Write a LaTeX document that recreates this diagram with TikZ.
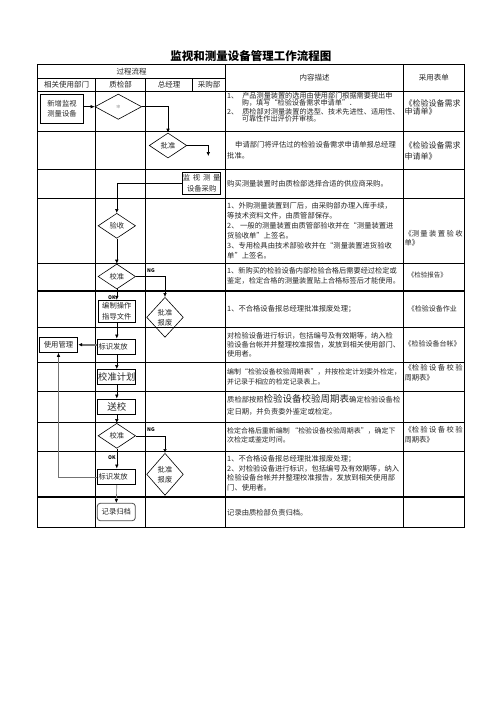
\documentclass[tikz,border=0pt]{standalone}
\usepackage{fontspec}
\setmainfont{Noto Sans CJK SC}
\usetikzlibrary{arrows.meta,shapes.geometric,positioning}
\newcommand{\cellfont}{\fontsize{7.3}{10}\selectfont}
\newcommand{\lsp}{\hspace{1.4pt}}
\tikzset{
  basic/.style   = {draw, inner sep=0pt, align=center, text=black!85,
  font=\fontsize{7.3}{8.5}\selectfont},
  stepbox/.style = {basic, rectangle, line width=0.9pt, minimum width=38pt,
  minimum height=15pt},
  leftbox/.style = {stepbox, align=left, inner xsep=0.6pt, text width=36.6pt},
  bigbox/.style  = {stepbox, font=\fontsize{9.3}{10}\selectfont},
  archive/.style = {stepbox, rounded corners=3pt, line width=0.8pt, draw=black!70},
  decide/.style  = {basic, diamond, line width=0.6pt, minimum width=37.5pt,
  minimum height=25pt},
  desc/.style    = {anchor=north west, align=left, inner sep=0pt, text=black!85,
  font=\cellfont},
  head/.style    = {inner sep=0pt, text=black!85, font=\fontsize{7.5}{9}\selectfont},
  title/.style   = {inner sep=0pt, font=\fontsize{11.5}{12}\selectfont\bfseries},
  tag/.style     = {inner sep=0pt, font=\fontsize{5}{5}\selectfont\bfseries},
  flow/.style    = {-{Latex[length=4pt,width=3.6pt]}, line width=0.6pt},
  grayflow/.style = {flow, draw=black!55, -{Latex[length=4pt,width=3.6pt,black]}},
  grid/.style    = {line width=0.7pt},
  heavy/.style   = {line width=2.2pt}
}

\begin{document}
\begin{tikzpicture}[x=1pt,y=-1pt]
\useasboundingbox (0,0) rectangle (496,702);
\node[title] (title) at (250.8,56) {监视和测量设备管理工作流程图};

\draw[grid] (37.3,64.3) rectangle (464.3,527.3);
\draw[grid] (95.7,78.3) -- (95.7,527.3);
\draw[grid] (145.7,78.3) -- (145.7,527.3);
\draw[grid] (192.3,78.3) -- (192.3,91);
\draw[grid] (225.7,64.3) -- (225.7,527.3);
\draw[grid] (403.3,64.3) -- (403.3,527.3);
\draw[grid] (37.3,78.3) -- (225.7,78.3);
\draw[grid] (37.3,91) -- (464.3,91);
\draw[grid] (37.3,131) -- (464.3,131);
\draw[grid] (37.3,169.3) -- (464.3,169.3);
\draw[grid] (37.3,198.3) -- (464.3,198.3);
\draw[grid] (37.3,263.3) -- (464.3,263.3);
\draw[heavy] (37.3,291) -- (464.3,291);
\draw[grid] (37.3,327.3) -- (464.3,327.3);
\draw[grid] (37.3,362.3) -- (464.3,362.3);
\draw[grid] (37.3,391.3) -- (464.3,391.3);
\draw[grid] (37.3,422) -- (464.3,422);
\draw[grid] (37.3,451.3) -- (464.3,451.3);
\draw[heavy] (37.3,497.3) -- (464.3,497.3);

\node[head] (hflow) at (131.5,71.3) {过程流程};
\node[head] (hdesc) at (314.5,77.7) {内容描述};
\node[head] (hform) at (433.8,77.7) {采用表单};
\node[head] (huser) at (66.5,84.6) {相关使用部门};
\node[head] (hqc) at (120.7,84.6) {质检部};
\node[head] (hgm) at (169,84.6) {总经理};
\node[head] (hbuy) at (209,84.6) {采购部};

\node[stepbox, minimum width=42.6pt, minimum height=28.7pt,
  font=\fontsize{7.3}{9.4}\selectfont] (new) at (62,108.7) {新增监视\\测量设备};
\node[decide, minimum width=46.7pt, minimum height=25.3pt,
  font=\fontsize{4}{4}\selectfont, text=black!40] (audit) at (118.3,106.7) {审};
\node[decide] (approve) at (168,145.5) {批准};
\coordinate (approveend) at (208.3,156);
\node[stepbox, minimum height=21.6pt, font=\fontsize{7.3}{11}\selectfont]
  (buy) at (201.7,183.5) {监\lsp\lsp 视\lsp\lsp 测\lsp\lsp 量\\设备采购};
\node[decide] (accept) at (116.8,225.8) {验收};
\node[decide] (calib1) at (116.8,276.5) {校准};
\node[stepbox, minimum width=36.6pt, minimum height=22pt,
  font=\fontsize{7.3}{10.5}\selectfont] (guide) at (116.8,311.3) {编制操作\\指导文件};
\node[decide, minimum width=36.7pt, minimum height=40pt,
  font=\fontsize{7.3}{10}\selectfont] (scrap1) at (165,317.3) {批准\\报废};
\node[stepbox, minimum width=38.4pt, minimum height=15.3pt] (use) at (58.5,344.7) {使用管理};
\node[leftbox] (issue1) at (116.8,346.5) {标识发放};
\node[bigbox] (plan) at (116.8,377) {校准计划};
\node[bigbox, font=\fontsize{9.5}{10}\selectfont] (send) at (116.8,406.5) {送校};
\node[decide] (calib2) at (116.8,435.8) {校准};
\node[leftbox, minimum height=15.7pt] (issue2) at (116.8,476.8) {标识发放};
\node[decide, minimum width=36.7pt, minimum height=42pt,
  font=\fontsize{7.3}{10}\selectfont] (scrap2) at (165,474.3) {批准\\报废};
\node[archive, minimum height=17.4pt] (record) at (116.3,512) {记录归档};

\node[tag, anchor=south west] (ng1) at (147,272.5) {NG};
\node[tag, anchor=east] (ok1) at (115.8,297.6) {OK};
\node[tag, anchor=south west] (ng2) at (147,431.5) {NG};
\node[tag, anchor=east] (ok2) at (115.8,457.3) {OK};

\draw[flow] (new.east |- audit.west) -- (audit.west);
\draw[flow] (audit.east) -| (approve.north);
\draw[flow] (approve.east) -| (approveend);
\draw[flow] (buy.west) -| (accept.north);
\path[flow] (accept.south) edge (calib1.north);
\draw[flow] (calib1.east) -| (scrap1.north);
\path[flow] (calib1.south) edge (guide.north);
\path[flow] (guide.south) edge (issue1.north);
\draw[grayflow, line width=1.6pt] (issue1.west |- use.east) -- (use.east);
\path[flow] (issue1.south) edge (plan.north);
\path[flow] (plan.south) edge (send.north);
\path[flow] (send.south) edge (calib2.north);
\draw[flow] (calib2.east) -| (scrap2.north);
\path[flow] (calib2.south) edge (issue2.north);
\draw[grayflow] (issue2.west) -| (use.south);
\draw[grayflow] (issue2.south) -- (record.north);

\node[desc, font=\fontsize{7.15}{7}\selectfont] (desc1) at (227,92.1) {
1、\hspace{4pt}产品测量装置的选用由使用部门根据需要提出申\\
\hspace*{14.7pt}购，填写“检验设备需求申请单”．\\[2.6pt]
2、\hspace{4pt}质检部对测量装置的选型、技术先进性、适用性、\\
\hspace*{14.7pt}可靠性作出评价并审核。};
\node[desc, font=\fontsize{7.3}{11}\selectfont] (desc2) at (227,141.4) {
\hspace*{8pt}申请部门将评估过的检验设备需求申请单报总经理\\批准。};
\node[desc] (desc3) at (227,180.4) {购买测量装置时由质检部选择合适的供应商采购。};
\node[desc] (desc4) at (227,202.1) {
1、外购测量装置到厂后，由采购部办理入库手续，\\
等技术资料文件，由质管部保存。\\
2、 一般的测量装置由质管部验收并在“测量装置进\\
货验收单”上签名。\\
3、专用检具由技术部验收并在“测量装置进货验收\\
单”上签名。};
\node[desc, font=\fontsize{7.2}{9.3}\selectfont] (desc5) at (227,267.4) {
1、新购买的检验设备内部检验合格后需要经过检定或\\
鉴定，检定合格的测量装置贴上合格标签后才能使用。};
\node[desc] (desc6) at (227,305.4) {1、不合格设备报总经理批准报废处理；};
\node[desc, font=\fontsize{7.2}{9.2}\selectfont] (desc7) at (227,332.1) {
对检验设备进行标识，包括编号及有效期等，纳入检\\
验设备台帐并并整理校准报告，发放到相关使用部门、\\
使用者。};
\node[desc, font=\fontsize{6.95}{10}\selectfont] (desc8) at (227,368.1) {
编制“检验设备校验周期表”，并按检定计划委外检定，\\
并记录于相应的检定记录表上。};
\node[desc, font=\fontsize{7.3}{12.3}\selectfont] (desc9) at (227,394) {
质检部按照{\fontsize{9.5}{12}\selectfont 检验设备校验周期表}确定检验设备检\\
定日期，并负责委外鉴定或检定。};
\node[desc, font=\fontsize{6.95}{9.3}\selectfont] (desc10) at (227,427.4) {
检定合格后重新编制 “检验设备校验周期表”，确定下\\
次检定或鉴定时间。};
\node[desc, font=\fontsize{7.3}{9.5}\selectfont] (desc11) at (227,455.4) {
1、不合格设备报总经理批准报废处理；\\
2、对检验设备进行标识，包括编号及有效期等，纳入\\
检验设备台帐并并整理校准报告，发放到相关使用部\\
门、使用者。};
\node[desc] (desc12) at (227,509.1) {记录由质检部负责归档。};

\node[desc, font=\fontsize{8}{8}\selectfont] (form1) at (404.3,99.7) {《检验设备需求\\申请单》};
\node[desc, font=\fontsize{8}{10.4}\selectfont] (form2) at (404.3,141.7) {《检验设备需求\\申请单》};
\node[desc, font=\fontsize{7.3}{9.4}\selectfont] (form4) at (404.3,229.7)
  {《测\lsp 量\lsp 装\lsp 置\lsp 验\lsp 收\\单》};
\node[desc, font=\fontsize{6.5}{8}\selectfont] (form5) at (407.7,271.6) {《检验报告》};
\node[desc, font=\fontsize{7}{8}\selectfont] (form6) at (407.7,305.5) {《检验设备作业};
\node[desc, font=\fontsize{7}{8}\selectfont] (form7) at (404.3,340.8) {《检验设备台帐》};
\node[desc, font=\fontsize{7.3}{10.3}\selectfont] (form8) at (404.3,364.3)
  {《检\lsp 验\lsp 设\lsp 备\lsp 校\lsp 验\\周期表》};
\node[desc, font=\fontsize{7.3}{10}\selectfont] (form10) at (404.3,426.5)
  {《检\lsp 验\lsp 设\lsp 备\lsp 校\lsp 验\\周期表》};
\end{tikzpicture}
\end{document}
